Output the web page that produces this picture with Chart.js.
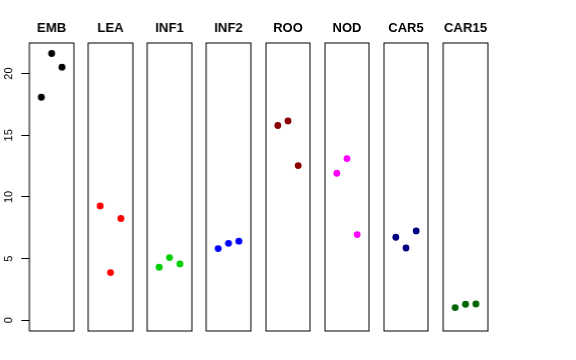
<!DOCTYPE html>
<html><head><meta charset="utf-8">
<script src="https://cdn.jsdelivr.net/npm/chart.js@4"></script>
<style>
html,body{margin:0;padding:0;background:#fff;}
#wrap{position:relative;width:576px;height:360px;overflow:hidden;}
#wrap canvas{position:absolute;top:0;}
</style></head>
<body><div id="wrap"></div>
<script>
const categories = ['EMB','LEA','INF1','INF2','ROO','NOD','CAR5','CAR15'];
const rep1 = [18.08, 9.27, 4.30, 5.81, 15.79, 11.92, 6.73, 1.03];
const rep2 = [21.63, 3.87, 5.08, 6.24, 16.16, 13.11, 5.86, 1.30];
const rep3 = [20.52, 8.25, 4.57, 6.41, 12.54, 6.95, 7.24, 1.32];
const colors = ['#000000','#FF0000','#00CD00','#0000FF','#8B0000','#FF00FF','#000080','#006400'];
const yTicks = [0, 5, 10, 15, 20];
const xPos = [1, 2, 3];

const FONT = "'Liberation Sans', Arial, Helvetica, sans-serif";
const panelLeft0 = 29, panelStep = 59.14, panelW = 44.6;
const panelTop = 43, panelBottom = 331, H = 360;
const yMin = -0.87, yMax = 22.48;

const boxPlugin = {
  id: 'box',
  afterDraw(chart) {
    const a = chart.chartArea, ctx = chart.ctx;
    ctx.save();
    ctx.strokeStyle = '#000';
    ctx.lineWidth = 1;
    ctx.strokeRect(a.left, a.top, a.right - a.left, a.bottom - a.top);
    ctx.restore();
  }
};

const wrap = document.getElementById('wrap');
categories.forEach((cat, i) => {
  const first = i === 0;
  const left = panelLeft0 + panelStep * i;
  const margin = 6;
  const cLeft = first ? 0 : left - margin;
  const cW = first ? left + panelW + margin : panelW + 2 * margin;
  const cv = document.createElement('canvas');
  cv.style.left = cLeft + 'px';
  cv.style.width = cW + 'px';
  cv.style.height = H + 'px';
  cv.width = cW; cv.height = H;
  wrap.appendChild(cv);
  const vals = [rep1[i], rep2[i], rep3[i]];
  const yScale = {
    type: 'linear', min: yMin, max: yMax,
    display: first,
    afterBuildTicks(s) { s.ticks = yTicks.map(v => ({value: v})); },
    border: {display: false},
    grid: {drawOnChartArea: false, drawTicks: true, tickLength: 8, color: '#000', lineWidth: 1},
    ticks: {
      color: '#000', font: {family: FONT, size: 11},
      minRotation: 90, maxRotation: 90, padding: 6, crossAlign: 'center',
      callback: v => String(v)
    }
  };
  if (first) yScale.afterFit = (s) => { s.width = panelLeft0; };
  new Chart(cv, {
    type: 'scatter',
    data: {
      datasets: [{
        data: xPos.map((x, k) => ({x: x, y: vals[k]})),
        backgroundColor: colors[i],
        borderWidth: 0,
        pointRadius: 3.4
      }]
    },
    options: {
      responsive: false,
      animation: false,
      devicePixelRatio: 1,
      layout: {padding: {left: first ? 0 : margin, right: margin, top: 0, bottom: H - panelBottom}},
      plugins: {
        legend: {display: false},
        tooltip: {enabled: false},
        title: {
          display: true, text: cat, color: '#000', fullSize: false,
          font: {family: FONT, size: 13, weight: 'bold', lineHeight: 1.2},
          padding: {top: 21, bottom: panelTop - 21 - 15.6}
        }
      },
      scales: {
        x: {type: 'linear', min: -0.16, max: 4.16, display: false},
        y: yScale
      }
    },
    plugins: [boxPlugin]
  });
});
</script></body></html>
